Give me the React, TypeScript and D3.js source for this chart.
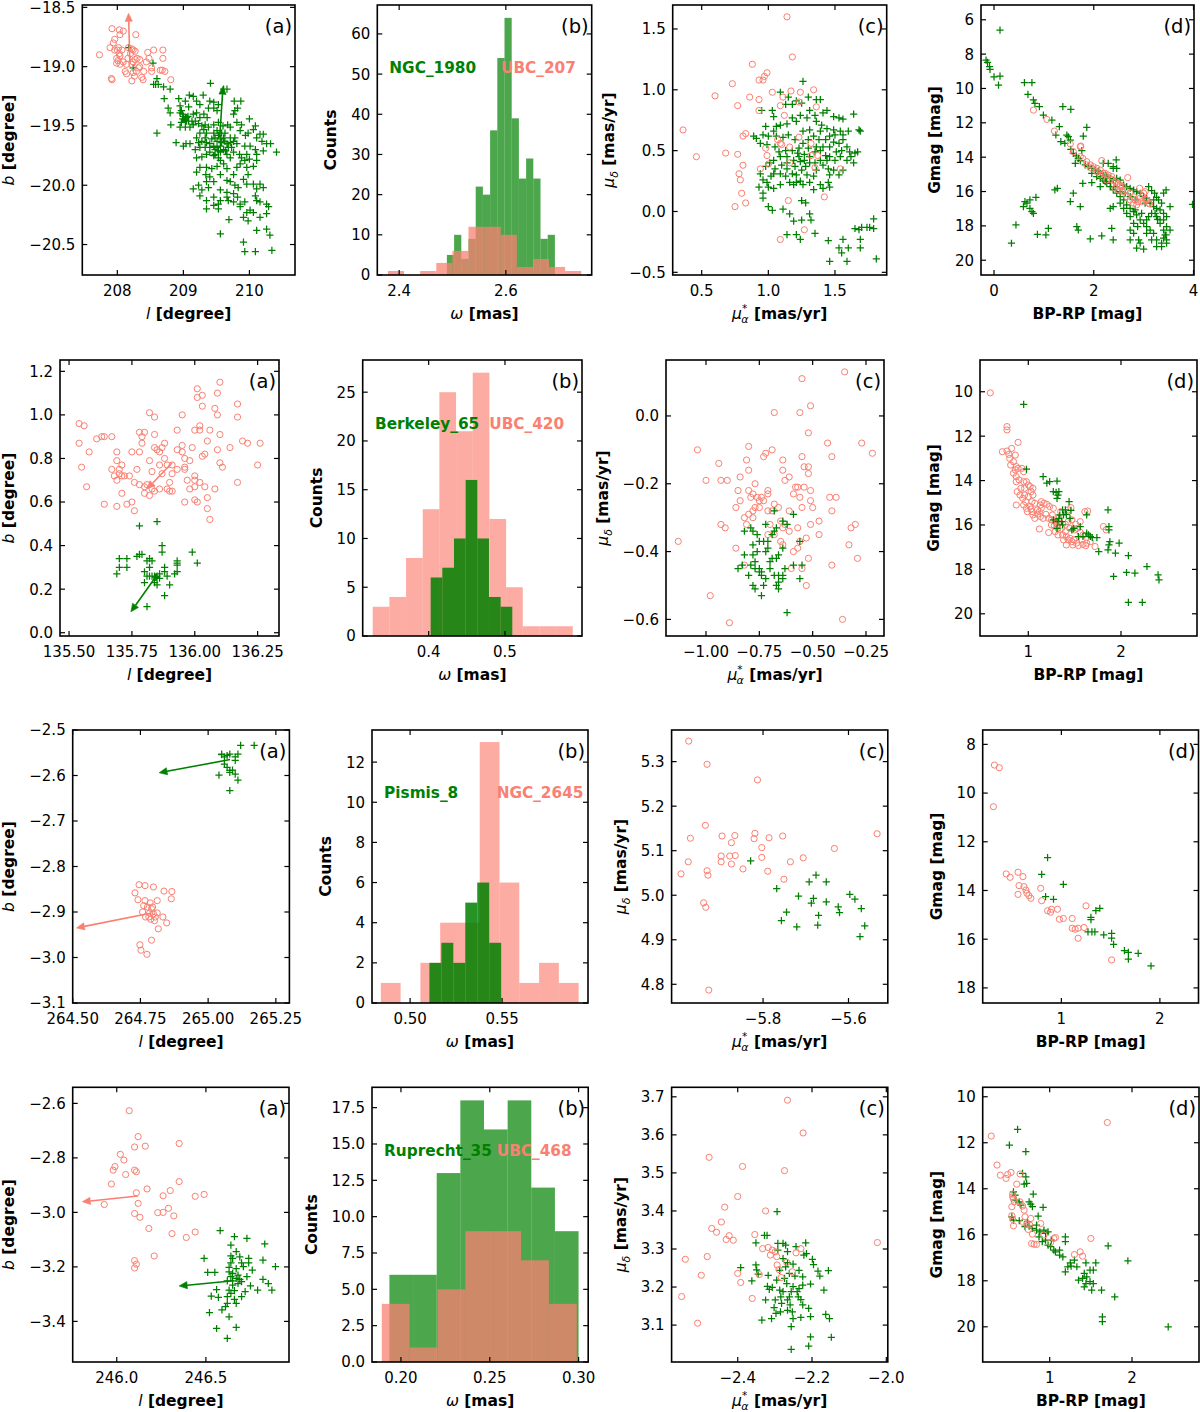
import React from 'react';
import * as d3 from 'd3';

const GREEN = '#008000';
const SALMON = '#fa8072';
const FONT = "'DejaVu Sans', sans-serif";
const TICK_FS = 15;
const LABEL_FS = 15.5;

type Pt = [number, number];
type Arrow = [number, number, number, number];

// ---------- Row 1: NGC_1980 (green) / UBC_207 (salmon) ----------
const ubc207Sky: Pt[] = [[207.73,-18.90],[207.92,-18.68],[208.03,-18.69],[208.09,-18.70],[208.04,-18.73],[207.96,-18.77],[207.94,-18.80],[208.02,-18.84],[207.89,-18.84],[207.96,-18.86],[208.00,-18.86],[208.03,-18.89],[208.04,-18.91],[207.99,-18.93],[208.01,-18.95],[207.99,-18.97],[208.04,-18.98],[208.09,-18.96],[208.14,-18.98],[208.16,-18.93],[208.20,-18.89],[208.22,-18.85],[208.28,-18.73],[208.24,-18.86],[208.27,-18.87],[208.30,-18.93],[208.27,-18.94],[208.24,-18.96],[208.34,-18.94],[208.34,-19.00],[208.32,-19.01],[208.29,-19.04],[208.24,-19.05],[208.22,-19.12],[208.14,-19.06],[208.12,-19.04],[208.22,-18.98],[208.17,-18.84],[208.46,-18.88],[208.55,-18.86],[208.69,-18.86],[208.48,-18.93],[208.44,-18.96],[208.52,-19.01],[208.52,-19.04],[208.39,-19.11],[208.37,-19.09],[208.40,-19.04],[208.65,-19.03],[208.69,-18.93],[208.68,-19.03],[208.72,-19.04],[208.81,-19.11],[207.91,-19.10],[207.92,-19.11],[208.07,-18.86],[208.26,-19.08]];
const ngc1980Sky: Pt[] = [[208.60,-19.10],[208.62,-19.15],[208.55,-19.15],[208.58,-19.15],[208.70,-19.17],[208.80,-19.19],[208.71,-19.27],[208.77,-19.35],[208.80,-19.39],[208.93,-19.27],[208.95,-19.33],[209.03,-19.29],[209.09,-19.24],[209.15,-19.25],[209.20,-19.29],[209.25,-19.32],[209.30,-19.24],[209.41,-19.14],[209.40,-19.29],[209.46,-19.30],[209.53,-19.32],[209.61,-19.19],[209.66,-19.19],[209.77,-19.29],[209.87,-19.29],[209.78,-19.37],[209.82,-19.35],[209.76,-19.40],[209.08,-19.34],[208.97,-19.37],[209.00,-19.42],[208.99,-19.44],[209.03,-19.45],[209.05,-19.46],[208.97,-19.47],[209.07,-19.42],[209.15,-19.40],[209.20,-19.39],[209.25,-19.43],[209.31,-19.40],[209.36,-19.43],[209.38,-19.35],[209.46,-19.35],[209.51,-19.37],[209.15,-19.49],[209.10,-19.51],[209.03,-19.51],[208.95,-19.51],[208.81,-19.49],[208.60,-19.56],[209.20,-19.60],[209.25,-19.56],[209.31,-19.53],[209.38,-19.51],[209.46,-19.49],[209.53,-19.47],[209.60,-19.50],[209.67,-19.49],[209.71,-19.51],[209.81,-19.47],[209.88,-19.49],[210.00,-19.44],[210.09,-19.50],[210.06,-19.53],[209.98,-19.56],[209.94,-19.58],[209.86,-19.54],[209.78,-19.60],[209.76,-19.63],[209.81,-19.65],[209.71,-19.64],[209.93,-19.67],[210.01,-19.67],[210.11,-19.60],[210.16,-19.57],[210.21,-19.57],[210.19,-19.63],[210.26,-19.65],[210.32,-19.65],[210.41,-19.72],[210.21,-19.71],[210.09,-19.70],[210.11,-19.74],[210.00,-19.78],[209.96,-19.74],[209.88,-19.77],[209.93,-19.79],[209.85,-19.74],[209.76,-19.72],[209.71,-19.77],[209.64,-19.71],[209.51,-19.68],[209.46,-19.67],[209.40,-19.65],[209.35,-19.64],[209.25,-19.68],[209.18,-19.70],[209.10,-19.65],[209.04,-19.65],[209.00,-19.67],[208.89,-19.64],[209.20,-19.77],[209.28,-19.76],[209.35,-19.74],[209.46,-19.75],[209.53,-19.77],[209.56,-19.79],[209.61,-19.82],[209.51,-19.84],[209.43,-19.86],[209.35,-19.85],[209.25,-19.85],[209.20,-19.89],[209.34,-19.91],[209.40,-19.93],[209.46,-19.97],[209.56,-19.91],[209.66,-19.86],[209.76,-19.91],[209.81,-19.85],[209.86,-19.82],[209.96,-19.85],[210.06,-19.84],[210.11,-19.79],[209.98,-19.91],[209.91,-19.95],[209.83,-20.02],[209.78,-20.00],[209.71,-19.97],[209.66,-19.96],[209.76,-20.07],[209.82,-20.10],[209.96,-19.99],[210.06,-19.99],[210.16,-19.99],[210.21,-20.02],[210.11,-20.03],[210.09,-20.09],[210.11,-20.13],[210.16,-20.14],[210.26,-20.16],[210.29,-20.18],[210.26,-20.24],[210.16,-20.27],[210.11,-20.38],[210.01,-20.21],[209.96,-20.23],[209.86,-20.18],[209.76,-20.14],[209.68,-20.13],[209.66,-20.10],[209.56,-20.13],[209.46,-20.17],[209.35,-20.20],[209.25,-20.09],[209.15,-20.03],[209.23,-20.00],[209.35,-19.97],[209.38,-20.02],[209.28,-20.04],[209.53,-20.16],[209.53,-20.20],[209.69,-20.29],[209.56,-20.41],[209.91,-20.27],[209.98,-20.30],[210.06,-20.23],[209.91,-20.48],[209.93,-20.56],[210.09,-20.56],[210.34,-20.55],[210.31,-20.42],[210.26,-20.37],[209.46,-20.10],[209.56,-20.04],[209.66,-20.06],[209.86,-20.16],[209.93,-20.14],[209.35,-20.13],[209.48,-19.60],[209.51,-19.63],[209.53,-19.58],[209.56,-19.61],[209.58,-19.64],[209.61,-19.60],[209.63,-19.63],[209.66,-19.65],[209.56,-19.67],[209.48,-19.70],[209.53,-19.71],[209.61,-19.70],[209.68,-19.68],[209.71,-19.60],[209.43,-19.61],[209.40,-19.68],[209.33,-19.60],[209.35,-19.56],[209.28,-19.63],[209.23,-19.64],[209.58,-19.56],[209.63,-19.56],[209.51,-19.54],[209.46,-19.56],[209.56,-19.72],[209.66,-19.74],[209.73,-19.68],[209.48,-19.74],[209.40,-19.72],[209.33,-19.68],[208.95,-19.39],[208.99,-19.40],[209.03,-19.43],[209.08,-19.46],[209.13,-19.46],[209.18,-19.46],[209.23,-19.48],[209.28,-19.50],[209.33,-19.49],[209.05,-19.43],[208.17,-18.84],[208.24,-19.01],[208.54,-18.97]];
const ubc207Arrow: Arrow = [208.19, -18.97, 208.17, -18.55];
const ngc1980Arrow: Arrow = [209.55, -19.60, 209.60, -19.165];

const ngc1980Plx = { start: 2.4895, width: 0.0135, counts: [5, 10, 4, 9, 22, 20, 36, 54, 64, 39, 24, 29, 24, 9, 10] };
const ubc207Plx = { start: 2.379, width: 0.0302, counts: [1, 0, 1, 3, 6, 12, 12, 10, 2, 4, 2, 1] };

const ubc207PM: Pt[] = [[1.14,1.60],[1.18,1.27],[0.88,1.21],[0.93,1.08],[0.96,1.08],[0.97,1.11],[0.99,1.14],[0.73,1.05],[0.60,0.95],[0.86,0.94],[1.03,0.98],[1.17,0.99],[1.24,0.98],[1.34,1.00],[0.93,0.92],[1.11,0.94],[0.77,0.87],[0.93,0.83],[1.09,0.87],[1.23,0.90],[1.36,0.86],[1.12,0.79],[0.36,0.67],[0.83,0.64],[0.81,0.62],[0.46,0.45],[0.68,0.48],[0.77,0.47],[0.81,0.38],[0.78,0.31],[0.79,0.26],[0.80,0.15],[0.83,0.07],[0.75,0.04],[0.94,0.35],[0.98,0.52],[0.99,0.46],[1.00,0.39],[1.07,0.59],[1.09,0.56],[1.16,0.53],[1.16,0.40],[1.23,0.61],[1.32,0.56],[1.32,0.46],[1.35,0.36],[1.37,0.46],[1.54,0.35],[1.15,0.09],[1.42,0.12],[1.27,-0.15],[1.09,-0.23],[1.10,0.55]];
const ngc1980PM: Pt[] = [[1.26,1.07],[1.09,0.98],[1.15,0.94],[1.03,0.83],[0.95,0.83],[0.98,0.70],[1.04,0.78],[1.06,0.70],[1.13,0.88],[1.18,0.88],[1.21,0.91],[1.25,0.89],[1.30,0.94],[1.31,0.83],[1.36,0.92],[1.39,0.92],[1.35,0.79],[1.41,0.81],[1.44,0.83],[1.49,0.78],[1.53,0.77],[1.56,0.76],[1.64,0.80],[1.69,0.66],[1.68,0.67],[1.60,0.66],[1.56,0.63],[1.50,0.63],[1.49,0.67],[1.44,0.68],[1.40,0.71],[1.36,0.74],[1.29,0.77],[1.24,0.79],[1.21,0.74],[1.18,0.77],[1.14,0.72],[1.09,0.71],[1.04,0.66],[1.00,0.62],[0.96,0.63],[0.91,0.60],[0.89,0.62],[0.94,0.56],[0.99,0.55],[1.05,0.53],[1.08,0.49],[1.13,0.50],[1.18,0.50],[1.23,0.52],[1.26,0.56],[1.30,0.59],[1.34,0.62],[1.38,0.59],[1.43,0.59],[1.46,0.62],[1.49,0.57],[1.53,0.56],[1.56,0.59],[1.59,0.53],[1.61,0.49],[1.65,0.48],[1.62,0.45],[1.59,0.42],[1.54,0.45],[1.50,0.42],[1.46,0.45],[1.43,0.46],[1.39,0.50],[1.35,0.49],[1.30,0.52],[1.27,0.47],[1.23,0.45],[1.19,0.42],[1.14,0.45],[1.09,0.45],[1.04,0.42],[1.01,0.40],[0.98,0.37],[0.94,0.31],[0.96,0.26],[0.99,0.24],[1.02,0.29],[1.04,0.31],[1.09,0.31],[1.14,0.35],[1.18,0.31],[1.21,0.30],[1.25,0.34],[1.28,0.37],[1.31,0.40],[1.36,0.34],[1.41,0.38],[1.45,0.35],[1.49,0.34],[1.53,0.30],[1.56,0.34],[1.64,0.40],[1.67,0.49],[1.45,0.24],[1.46,0.20],[1.41,0.19],[1.39,0.22],[1.34,0.18],[1.31,0.24],[1.26,0.22],[1.21,0.24],[1.24,0.25],[1.19,0.22],[1.16,0.24],[1.09,0.22],[1.04,0.19],[1.00,0.20],[0.96,0.15],[0.93,0.20],[0.96,0.11],[1.00,0.04],[1.03,0.01],[1.11,0.02],[1.16,-0.02],[1.19,-0.08],[1.25,0.09],[1.28,0.07],[1.31,-0.02],[1.32,-0.07],[1.25,-0.07],[1.14,-0.19],[1.21,-0.19],[1.24,-0.23],[1.35,-0.18],[1.45,-0.24],[1.46,-0.41],[1.53,-0.30],[1.56,-0.23],[1.60,-0.30],[1.59,-0.41],[1.55,-0.34],[1.69,-0.30],[1.70,-0.13],[1.68,-0.15],[1.69,-0.23],[1.65,-0.14],[1.74,-0.13],[1.76,-0.13],[1.79,-0.06],[1.81,-0.39],[1.79,-0.14],[1.22,0.48],[1.27,0.42],[1.31,0.45],[1.10,0.38],[1.05,0.35],[1.14,0.40],[1.39,0.42],[1.35,0.40],[1.44,0.42],[1.15,0.63],[1.20,0.59],[1.11,0.61],[1.06,0.62],[1.26,0.66],[1.31,0.67],[1.39,0.66],[1.54,0.66],[1.46,0.53],[1.41,0.53],[1.36,0.53],[1.24,0.41],[1.20,0.37],[1.13,0.29],[1.29,0.30],[1.34,0.29],[1.51,0.49],[1.55,0.50],[1.46,0.30]];

const ubc207CMD: Pt[] = [[0.79,11.26],[1.06,11.80],[1.21,12.48],[1.53,13.23],[1.73,13.39],[1.74,13.35],[1.59,13.68],[1.73,13.97],[1.78,14.07],[1.86,14.26],[1.93,14.45],[1.99,14.55],[2.06,14.65],[2.13,14.75],[2.16,14.20],[2.23,14.94],[2.29,15.04],[2.36,15.13],[2.43,15.42],[2.49,15.52],[2.53,15.62],[2.58,15.71],[2.63,15.91],[2.68,15.19],[2.73,16.10],[2.80,16.30],[2.83,16.49],[2.88,16.59],[2.92,15.81],[3.00,16.10],[3.03,16.01],[3.06,16.49],[3.10,16.68],[2.58,16.01],[2.49,15.91],[2.43,15.81],[2.34,15.29],[2.26,15.33],[2.19,14.94],[2.80,16.68],[2.86,16.78],[2.96,16.59],[3.03,16.45],[1.86,14.45],[1.96,14.65],[2.06,14.84],[2.13,15.04],[2.46,15.62],[2.53,15.71],[2.66,16.30],[2.73,16.49],[2.93,16.39],[3.12,16.72]];
const ngc1980CMD: Pt[] = [[0.12,6.60],[-0.16,8.35],[-0.13,8.48],[-0.09,8.73],[-0.08,8.89],[0.00,9.32],[0.12,9.28],[0.09,9.80],[0.61,9.66],[0.76,9.66],[0.68,10.34],[0.79,10.67],[0.82,10.87],[0.91,11.06],[1.38,11.06],[1.54,11.22],[0.99,11.55],[1.16,11.84],[1.31,12.22],[1.24,12.71],[1.34,13.10],[1.42,13.19],[1.46,12.71],[1.49,12.81],[1.53,13.00],[1.54,13.54],[1.59,13.78],[1.65,13.93],[1.69,14.07],[1.73,14.20],[1.63,14.36],[1.76,13.62],[1.86,12.26],[1.79,12.77],[1.83,14.45],[1.89,14.55],[1.96,14.65],[2.03,14.75],[2.09,14.84],[2.13,14.94],[2.19,15.09],[2.26,15.13],[2.33,15.23],[2.39,15.33],[2.46,15.23],[2.53,15.33],[2.60,15.62],[2.66,15.71],[2.73,15.81],[2.80,15.91],[2.86,16.01],[2.93,16.10],[3.00,16.30],[3.06,16.39],[3.13,16.68],[3.20,16.88],[3.26,16.98],[3.33,17.07],[3.40,17.27],[3.46,17.46],[3.40,17.65],[3.33,17.85],[3.46,18.04],[3.53,18.24],[3.43,18.53],[3.40,18.72],[3.46,18.82],[3.36,19.01],[3.26,18.82],[3.20,18.43],[3.13,18.24],[3.06,18.04],[3.00,17.85],[2.93,17.65],[2.86,17.36],[2.80,17.17],[2.73,16.98],[2.66,16.78],[2.60,16.49],[2.53,16.30],[2.46,16.10],[2.39,15.91],[2.33,15.71],[2.26,15.52],[2.19,15.33],[2.13,15.23],[2.06,15.13],[1.96,14.94],[1.78,15.52],[1.59,16.10],[1.53,16.59],[1.22,15.91],[1.27,15.81],[1.73,16.88],[1.96,15.48],[2.13,15.71],[2.23,15.04],[2.39,14.65],[2.45,14.16],[2.39,14.55],[2.46,14.65],[2.29,14.36],[2.19,14.36],[2.34,15.71],[2.33,16.98],[2.39,16.88],[2.53,16.68],[2.60,16.98],[2.66,17.27],[2.73,17.46],[2.80,17.85],[2.88,18.04],[2.73,18.24],[2.73,18.82],[2.80,18.43],[2.86,19.30],[2.90,18.82],[2.36,18.14],[2.39,18.82],[2.16,18.58],[1.93,18.76],[1.66,18.04],[1.69,18.24],[0.72,16.49],[0.66,16.68],[0.59,16.88],[0.62,16.59],[0.76,17.17],[0.84,16.34],[0.79,17.27],[0.72,16.98],[0.44,17.94],[0.35,19.01],[0.87,18.49],[1.04,18.53],[1.09,18.14],[3.06,17.65],[3.16,17.27],[3.28,17.62],[3.40,18.24],[3.45,15.91],[3.40,16.10],[3.53,16.88],[3.45,18.53],[3.46,19.01],[3.98,16.75],[3.03,16.68],[3.23,17.27],[3.10,17.46],[2.96,17.27],[2.83,17.07],[2.83,16.49],[2.73,16.30],[2.63,16.10],[2.53,16.01],[2.43,15.71],[2.33,15.42],[2.23,15.42],[3.10,15.71],[3.16,15.95],[3.22,16.10],[3.26,16.34],[3.30,16.49],[3.36,16.68],[3.20,16.49],[3.26,17.46],[3.33,17.65],[3.06,18.43],[3.16,18.82],[3.26,19.21],[3.36,19.21],[2.93,19.01],[3.00,19.35]];

// ---------- Row 2: Berkeley_65 (green) / UBC_420 (salmon) ----------
const ubc420Sky: Pt[] = [[135.54,0.96],[135.56,0.95],[135.54,0.87],[135.55,0.76],[135.58,0.83],[135.57,0.67],[135.61,0.89],[135.63,0.90],[135.64,0.90],[135.67,0.90],[135.64,0.59],[135.67,0.75],[135.69,0.83],[135.69,0.79],[135.69,0.70],[135.69,0.58],[135.70,0.75],[135.70,0.73],[135.71,0.72],[135.71,0.77],[135.71,0.64],[135.72,0.72],[135.74,0.72],[135.75,0.83],[135.75,0.60],[135.76,0.56],[135.76,0.69],[135.77,0.75],[135.78,0.83],[135.78,0.92],[135.79,0.90],[135.79,0.87],[135.80,0.92],[135.80,0.64],[135.82,1.01],[135.82,0.79],[135.83,0.74],[135.84,0.99],[135.84,0.85],[135.84,0.91],[135.85,0.84],[135.86,0.77],[135.86,0.83],[135.87,0.85],[135.88,0.87],[135.88,0.80],[135.84,0.65],[135.82,0.63],[135.83,0.66],[135.87,0.73],[135.89,0.77],[135.90,0.65],[135.90,0.69],[135.91,0.73],[135.91,0.77],[135.91,0.65],[135.93,0.75],[135.93,0.93],[135.93,0.84],[135.95,1.00],[135.95,0.83],[135.95,0.86],[135.96,0.80],[135.96,0.75],[135.96,0.76],[135.97,0.70],[135.98,0.66],[135.99,0.85],[136.00,0.93],[136.00,0.72],[136.00,0.70],[136.00,0.61],[136.01,0.60],[136.01,1.08],[136.01,1.12],[136.02,0.95],[136.02,0.93],[136.02,0.69],[136.03,1.09],[136.03,1.04],[136.03,0.81],[136.04,0.67],[136.04,0.82],[136.05,0.62],[136.05,0.57],[136.05,0.88],[136.06,0.93],[136.06,0.52],[136.08,1.03],[136.08,0.66],[136.09,0.84],[136.09,1.00],[136.10,1.15],[136.09,1.10],[136.10,0.91],[136.10,0.78],[136.11,0.76],[136.14,0.85],[136.17,1.05],[136.17,0.99],[136.17,0.69],[136.19,0.88],[136.21,0.87],[136.25,0.77],[136.26,0.87],[135.86,0.66],[135.89,0.66],[135.81,0.68],[135.73,0.59],[135.68,0.72],[135.96,0.60],[136.00,0.67],[135.98,0.79],[135.78,0.68],[135.80,0.67]];
const berkeley65Sky: Pt[] = [[135.85,0.51],[135.78,0.49],[135.78,0.36],[135.79,0.36],[135.70,0.34],[135.73,0.34],[135.70,0.30],[135.73,0.30],[135.69,0.27],[135.82,0.34],[135.83,0.33],[135.81,0.33],[135.82,0.30],[135.87,0.40],[135.87,0.37],[135.88,0.30],[135.93,0.33],[135.93,0.32],[135.93,0.31],[135.92,0.27],[135.93,0.28],[135.99,0.37],[136.01,0.32],[135.83,0.26],[135.84,0.26],[135.845,0.255],[135.85,0.26],[135.86,0.27],[135.85,0.25],[135.86,0.25],[135.84,0.23],[135.81,0.26],[135.80,0.23],[135.88,0.28],[135.89,0.26],[135.90,0.22],[135.85,0.22],[135.88,0.17],[135.81,0.12],[135.82,0.26],[135.80,0.28],[135.77,0.35]];
const ubc420Arrow: Arrow = [135.91, 0.78, 135.81, 0.66];
const berkeley65Arrow: Arrow = [135.845, 0.257, 135.746, 0.096];

const ubc420Plx = { start: 0.3266, width: 0.02186, counts: [3, 4, 8, 13, 25, 21, 27, 12, 5, 1, 1, 1] };
const berkeley65Plx = { start: 0.4026, width: 0.01529, counts: [6, 7, 10, 16, 10, 4, 3] };

const ubc420PM: Pt[] = [[-1.13,-0.37],[-1.04,-0.10],[-1.00,-0.19],[-0.94,-0.14],[-0.93,-0.19],[-0.90,-0.19],[-0.91,-0.33],[-0.93,-0.32],[-0.98,-0.53],[-0.89,-0.61],[-0.86,-0.39],[-0.86,-0.27],[-0.85,-0.22],[-0.84,-0.25],[-0.84,-0.18],[-0.81,-0.13],[-0.80,-0.09],[-0.80,-0.16],[-0.82,-0.44],[-0.81,-0.32],[-0.79,-0.24],[-0.78,-0.30],[-0.78,-0.28],[-0.77,-0.27],[-0.77,-0.20],[-0.76,-0.24],[-0.75,-0.25],[-0.74,-0.24],[-0.73,-0.12],[-0.72,-0.11],[-0.71,-0.22],[-0.71,-0.23],[-0.70,-0.32],[-0.69,-0.10],[-0.68,-0.26],[-0.69,-0.28],[-0.68,0.01],[-0.66,-0.27],[-0.65,-0.31],[-0.64,-0.13],[-0.64,-0.16],[-0.63,-0.19],[-0.61,-0.28],[-0.59,-0.40],[-0.61,-0.34],[-0.57,-0.33],[-0.55,0.11],[-0.56,0.01],[-0.55,-0.12],[-0.54,-0.15],[-0.55,-0.27],[-0.55,-0.45],[-0.54,-0.21],[-0.53,-0.36],[-0.52,-0.05],[-0.52,-0.15],[-0.51,0.03],[-0.52,-0.17],[-0.51,-0.32],[-0.51,-0.22],[-0.47,-0.35],[-0.47,-0.31],[-0.53,-0.50],[-0.51,-0.25],[-0.52,-0.42],[-0.60,-0.45],[-0.64,-0.33],[-0.57,-0.39],[-0.57,-0.21],[-0.43,-0.08],[-0.41,-0.12],[-0.42,-0.24],[-0.41,-0.28],[-0.41,-0.44],[-0.39,-0.24],[-0.35,0.13],[-0.36,-0.60],[-0.33,-0.38],[-0.32,-0.33],[-0.30,-0.32],[-0.29,-0.42],[-0.27,-0.08],[-0.22,-0.11],[-0.56,-0.37],[-0.64,-0.38],[-0.61,-0.18],[-0.80,-0.22],[-0.78,-0.23],[-0.75,-0.27],[-0.73,-0.25],[-0.71,-0.28],[-0.80,-0.29],[-0.82,-0.30],[-0.68,-0.35],[-0.71,-0.35],[-0.63,-0.32],[-0.59,-0.23],[-0.58,-0.21],[-0.56,-0.24],[-0.50,-0.27],[-0.65,-0.37]];
const berkeley65PM: Pt[] = [[-0.79,-0.33],[-0.78,-0.34],[-0.82,-0.34],[-0.75,-0.37],[-0.73,-0.37],[-0.71,-0.37],[-0.68,-0.28],[-0.67,-0.33],[-0.68,-0.34],[-0.69,-0.35],[-0.62,-0.32],[-0.64,-0.31],[-0.59,-0.29],[-0.56,-0.37],[-0.64,-0.39],[-0.66,-0.41],[-0.67,-0.42],[-0.69,-0.42],[-0.71,-0.39],[-0.72,-0.40],[-0.70,-0.43],[-0.76,-0.40],[-0.78,-0.41],[-0.82,-0.41],[-0.83,-0.44],[-0.85,-0.45],[-0.79,-0.44],[-0.77,-0.43],[-0.77,-0.45],[-0.74,-0.46],[-0.74,-0.47],[-0.72,-0.48],[-0.70,-0.45],[-0.68,-0.47],[-0.66,-0.47],[-0.67,-0.50],[-0.66,-0.49],[-0.64,-0.47],[-0.63,-0.45],[-0.59,-0.44],[-0.55,-0.44],[-0.56,-0.48],[-0.64,-0.48],[-0.75,-0.45],[-0.75,-0.46],[-0.80,-0.47],[-0.77,-0.51],[-0.74,-0.53],[-0.73,-0.50],[-0.78,-0.50],[-0.66,-0.51],[-0.62,-0.58],[-0.78,-0.38],[-0.76,-0.35],[-0.72,-0.32]];

const ubc420CMD: Pt[] = [[0.59,10.05],[0.77,11.57],[0.77,11.72],[0.72,12.70],[0.77,12.67],[0.82,12.55],[0.79,12.82],[0.89,12.28],[0.80,13.00],[0.86,12.85],[0.84,13.15],[0.81,13.30],[0.87,13.37],[0.86,13.52],[0.84,13.67],[0.87,13.82],[0.89,13.45],[0.87,14.05],[0.90,13.97],[0.93,13.45],[0.95,13.60],[0.95,14.05],[0.96,14.35],[0.92,14.35],[0.88,14.50],[0.87,15.10],[0.91,14.65],[0.94,14.80],[0.96,14.65],[0.98,14.05],[1.00,14.20],[1.02,14.27],[1.03,14.50],[1.05,14.65],[1.05,14.35],[1.00,14.72],[0.97,14.95],[0.95,15.10],[0.98,15.25],[1.03,15.28],[0.99,15.40],[1.04,15.40],[1.05,15.55],[1.07,15.70],[1.10,15.52],[1.12,15.40],[1.14,15.25],[1.13,15.62],[1.16,15.70],[1.19,15.52],[1.22,15.70],[1.25,15.77],[1.26,15.55],[1.29,15.85],[1.31,15.92],[1.33,15.70],[1.35,15.40],[1.27,15.25],[1.23,15.17],[1.20,15.07],[1.17,15.02],[1.13,15.10],[1.10,15.32],[1.14,14.95],[1.07,15.02],[1.04,14.95],[1.02,15.17],[1.12,16.18],[1.22,16.34],[1.25,16.00],[1.28,16.03],[1.31,16.03],[1.32,16.15],[1.36,16.15],[1.40,16.30],[1.37,16.45],[1.41,16.52],[1.43,16.67],[1.45,16.60],[1.47,16.75],[1.49,16.67],[1.52,16.82],[1.54,16.93],[1.59,16.87],[1.63,16.82],[1.58,16.67],[1.59,16.45],[1.56,16.33],[1.53,16.15],[1.50,16.22],[1.45,16.15],[1.40,15.97],[1.43,15.85],[1.47,15.77],[1.51,15.97],[1.56,15.85],[1.61,15.40],[1.81,16.07],[1.84,16.22],[1.64,15.37],[1.43,15.32],[1.46,15.22],[1.34,15.85],[1.32,16.45],[1.29,16.30],[1.38,16.67],[1.41,16.90],[1.48,16.90],[1.62,16.93],[1.67,16.75],[1.72,16.97]];
const berkeley65CMD: Pt[] = [[0.95,10.57],[0.98,13.49],[1.16,13.82],[1.20,14.12],[1.23,14.05],[1.31,14.02],[1.27,14.50],[1.30,14.53],[1.33,14.50],[1.32,14.65],[1.31,14.80],[1.44,14.95],[1.46,15.34],[1.40,15.32],[1.37,15.32],[1.34,15.55],[1.33,15.70],[1.32,15.85],[1.36,15.85],[1.37,16.00],[1.38,15.55],[1.41,15.52],[1.45,15.70],[1.47,16.22],[1.56,16.07],[1.63,15.55],[1.63,16.37],[1.65,16.45],[1.67,16.52],[1.69,16.57],[1.74,16.57],[1.76,17.20],[1.59,16.52],[1.54,16.52],[1.86,15.32],[1.87,16.07],[1.87,16.22],[1.86,17.12],[1.87,16.90],[1.88,16.75],[1.94,17.27],[1.98,16.82],[2.08,17.38],[1.92,18.32],[2.06,18.14],[2.15,18.17],[2.28,17.87],[2.40,18.25],[2.41,18.47],[2.08,19.49],[2.23,19.49],[1.31,16.15],[1.49,16.15],[1.27,15.77]];

// ---------- Row 3: Pismis_8 (green) / NGC_2645 (salmon) ----------
const pismis8Sky: Pt[] = [[265.05,-2.553],[265.07,-2.556],[265.08,-2.553],[265.10,-2.559],[265.11,-2.553],[265.12,-2.534],[265.17,-2.534],[265.06,-2.575],[265.07,-2.582],[265.08,-2.589],[265.09,-2.588],[265.08,-2.593],[265.10,-2.597],[265.11,-2.610],[265.04,-2.599],[265.08,-2.633],[265.10,-2.567],[265.06,-2.559],[265.05,-2.554]];
const ngc2645Sky: Pt[] = [[264.745,-2.840],[264.767,-2.842],[264.798,-2.845],[264.730,-2.858],[264.741,-2.873],[264.767,-2.875],[264.786,-2.880],[264.812,-2.875],[264.837,-2.854],[264.866,-2.855],[264.864,-2.871],[264.762,-2.886],[264.776,-2.889],[264.795,-2.889],[264.758,-2.900],[264.784,-2.902],[264.798,-2.904],[264.812,-2.902],[264.781,-2.911],[264.788,-2.916],[264.802,-2.919],[264.791,-2.893],[264.769,-2.911],[264.805,-2.911],[264.833,-2.911],[264.847,-2.924],[264.816,-2.937],[264.748,-2.972],[264.791,-2.962],[264.752,-2.984],[264.774,-2.993]];
const pismis8Arrow: Arrow = [265.081, -2.565, 264.819, -2.594];
const ngc2645Arrow: Arrow = [264.791, -2.902, 264.514, -2.935];

const ngc2645Plx = { start: 0.4841, width: 0.01075, counts: [1, 0, 2, 4, 4, 13, 6, 1, 2, 1] };
const pismis8Plx = { start: 0.5105, width: 0.0065, counts: [2, 3, 2, 5, 6, 3] };

const ngc2645PM: Pt[] = [[-5.974,5.346],[-5.931,5.294],[-5.813,5.259],[-5.935,5.157],[-5.970,5.128],[-5.896,5.133],[-5.866,5.134],[-5.819,5.139],[-5.821,5.127],[-5.786,5.129],[-5.754,5.133],[-5.533,5.138],[-5.874,5.118],[-5.975,5.075],[-5.992,5.048],[-5.931,5.055],[-5.929,5.045],[-5.898,5.088],[-5.878,5.088],[-5.865,5.089],[-5.898,5.075],[-5.874,5.070],[-5.847,5.059],[-5.803,5.107],[-5.803,5.085],[-5.789,5.054],[-5.751,5.036],[-5.736,5.075],[-5.706,5.084],[-5.633,5.105],[-5.939,4.983],[-5.934,4.973],[-5.927,4.787]];
const pismis8PM: Pt[] = [[-5.829,5.077],[-5.768,5.015],[-5.757,4.943],[-5.745,4.962],[-5.721,4.929],[-5.717,4.998],[-5.687,4.982],[-5.682,4.993],[-5.692,5.030],[-5.676,5.045],[-5.670,4.955],[-5.672,4.933],[-5.652,5.030],[-5.652,4.985],[-5.624,4.974],[-5.621,4.961],[-5.597,5.002],[-5.585,4.991],[-5.570,4.970],[-5.562,4.931],[-5.573,4.907]];

const ngc2645CMD: Pt[] = [[0.32,8.85],[0.37,8.96],[0.31,10.56],[0.44,13.32],[0.48,13.46],[0.56,13.25],[0.61,13.43],[0.56,14.16],[0.57,13.80],[0.62,13.84],[0.64,13.98],[0.65,14.11],[0.67,14.21],[0.69,14.32],[0.79,13.91],[0.80,14.42],[0.86,14.83],[0.89,14.89],[0.90,14.77],[0.96,14.77],[0.98,15.18],[1.02,15.15],[1.11,15.15],[1.11,15.55],[1.14,15.59],[1.17,15.55],[1.17,15.96],[1.23,15.52],[1.25,14.63],[1.51,16.85]];
const pismis8CMD: Pt[] = [[0.86,12.65],[0.80,13.34],[1.02,13.75],[0.84,14.25],[0.92,14.36],[1.39,14.73],[1.35,14.83],[1.30,15.10],[1.30,15.20],[1.27,15.70],[1.31,15.70],[1.34,15.70],[1.43,15.82],[1.51,15.76],[1.51,15.96],[1.53,16.21],[1.64,16.47],[1.68,16.54],[1.78,16.58],[1.68,16.82],[1.91,17.10]];

// ---------- Row 4: Ruprecht_35 (green) / UBC_468 (salmon) ----------
const ubc468Sky: Pt[] = [[246.07,-2.627],[246.12,-2.722],[246.10,-2.760],[246.16,-2.757],[246.35,-2.747],[246.02,-2.787],[246.04,-2.808],[245.98,-2.845],[245.99,-2.832],[246.05,-2.861],[246.10,-2.845],[246.11,-2.851],[245.97,-2.896],[246.35,-2.887],[246.17,-2.914],[246.11,-2.928],[246.26,-2.939],[246.30,-2.920],[246.44,-2.941],[246.49,-2.934],[245.93,-2.971],[246.12,-2.967],[246.10,-3.004],[246.13,-3.018],[246.23,-3.001],[246.26,-3.000],[246.29,-2.985],[246.32,-3.013],[246.18,-3.059],[246.31,-3.078],[246.39,-3.092],[246.44,-3.072],[246.21,-3.160],[246.10,-3.177],[246.11,-3.190],[246.10,-3.204]];
const ruprecht35Sky: Pt[] = [[246.58,-3.067],[246.66,-3.089],[246.73,-3.095],[246.83,-3.116],[246.49,-3.169],[246.64,-3.120],[246.67,-3.144],[246.64,-3.160],[246.65,-3.169],[246.69,-3.163],[246.74,-3.169],[246.74,-3.185],[246.70,-3.185],[246.64,-3.185],[246.82,-3.175],[246.71,-3.199],[246.67,-3.206],[246.63,-3.202],[246.51,-3.220],[246.55,-3.220],[246.63,-3.218],[246.65,-3.224],[246.68,-3.230],[246.64,-3.236],[246.67,-3.242],[246.69,-3.246],[246.70,-3.254],[246.65,-3.251],[246.62,-3.251],[246.68,-3.261],[246.65,-3.267],[246.82,-3.246],[246.85,-3.261],[246.75,-3.270],[246.56,-3.283],[246.63,-3.285],[246.66,-3.287],[246.64,-3.297],[246.72,-3.291],[246.79,-3.285],[246.53,-3.307],[246.57,-3.312],[246.62,-3.309],[246.66,-3.319],[246.70,-3.309],[246.62,-3.334],[246.61,-3.346],[246.67,-3.334],[246.59,-3.358],[246.52,-3.368],[246.63,-3.383],[246.56,-3.426],[246.67,-3.422],[246.62,-3.462],[246.89,-3.199],[246.87,-3.285],[246.76,-3.212],[246.73,-3.236]];
const ubc468Arrow: Arrow = [246.118, -2.940, 245.807, -2.961];
const ruprecht35Arrow: Arrow = [246.654, -3.251, 246.35, -3.270];

const ruprecht35Plx = { start: 0.1935, width: 0.01331, counts: [6, 6, 13, 18, 16, 18, 12, 9] };
const ubc468Plx = { start: 0.1892, width: 0.01568, counts: [4, 1, 5, 9, 9, 7, 4] };

const ubc468PM: Pt[] = [[-2.266,3.691],[-2.224,3.605],[-2.477,3.541],[-2.387,3.517],[-2.274,3.506],[-2.435,3.410],[-2.400,3.438],[-2.325,3.400],[-2.444,3.371],[-2.470,3.354],[-2.457,3.344],[-2.423,3.335],[-2.431,3.325],[-2.412,3.323],[-2.354,3.338],[-2.333,3.301],[-2.318,3.304],[-2.307,3.297],[-2.299,3.293],[-2.312,3.284],[-2.295,3.280],[-2.294,3.258],[-2.289,3.246],[-2.283,3.225],[-2.268,3.265],[-2.253,3.240],[-2.243,3.290],[-2.230,3.301],[-2.482,3.280],[-2.541,3.273],[-2.498,3.231],[-2.400,3.236],[-2.392,3.212],[-2.342,3.233],[-2.361,3.170],[-2.551,3.175],[-2.508,3.105],[-2.024,3.317]];
const ruprecht35PM: Pt[] = [[-2.294,3.398],[-2.328,3.336],[-2.321,3.336],[-2.351,3.316],[-2.392,3.251],[-2.351,3.258],[-2.349,3.245],[-2.362,3.216],[-2.345,3.234],[-2.318,3.231],[-2.292,3.315],[-2.278,3.315],[-2.271,3.310],[-2.266,3.293],[-2.292,3.297],[-2.278,3.275],[-2.266,3.264],[-2.251,3.260],[-2.243,3.306],[-2.217,3.316],[-2.215,3.288],[-2.222,3.284],[-2.199,3.273],[-2.196,3.259],[-2.184,3.242],[-2.179,3.229],[-2.156,3.243],[-2.168,3.192],[-2.204,3.208],[-2.225,3.205],[-2.235,3.196],[-2.240,3.188],[-2.237,3.174],[-2.230,3.167],[-2.251,3.201],[-2.256,3.188],[-2.261,3.174],[-2.266,3.166],[-2.278,3.188],[-2.284,3.174],[-2.282,3.157],[-2.307,3.199],[-2.320,3.202],[-2.315,3.194],[-2.325,3.166],[-2.302,3.146],[-2.297,3.131],[-2.285,3.135],[-2.266,3.139],[-2.259,3.153],[-2.253,3.135],[-2.251,3.117],[-2.256,3.096],[-2.225,3.153],[-2.209,3.144],[-2.204,3.122],[-2.230,3.120],[-2.204,3.069],[-2.153,3.117],[-2.163,3.128],[-2.148,3.068],[-2.209,3.045],[-2.256,3.036],[-2.335,3.113],[-2.309,3.117],[-2.274,3.223],[-2.295,3.218],[-2.287,3.244],[-2.271,3.253],[-2.261,3.236],[-2.235,3.244],[-2.225,3.227],[-2.268,3.209],[-2.246,3.229],[-2.287,3.192],[-2.299,3.166]];

const ubc468CMD: Pt[] = [[0.29,11.71],[0.36,12.97],[0.40,13.41],[0.47,13.55],[0.49,13.38],[0.53,13.29],[0.60,13.80],[0.64,13.36],[0.55,14.23],[0.55,14.35],[0.56,14.45],[0.57,14.57],[0.54,14.78],[0.54,15.17],[0.55,15.33],[0.56,15.61],[0.64,14.57],[0.67,14.75],[0.69,14.93],[0.70,15.22],[0.68,15.46],[0.72,15.54],[0.77,15.29],[0.79,15.97],[0.78,16.38],[0.81,16.41],[0.84,16.42],[0.89,15.51],[0.93,16.01],[1.01,16.35],[1.05,16.16],[1.07,16.12],[1.30,16.86],[1.37,16.74],[1.40,16.93],[1.50,16.16],[1.70,11.12],[0.76,15.58],[0.74,15.77]];
const ruprecht35CMD: Pt[] = [[0.61,11.42],[0.51,12.10],[0.71,12.39],[0.67,13.33],[0.71,13.48],[0.72,13.77],[0.69,13.80],[0.56,14.13],[0.58,14.28],[0.59,14.49],[0.63,14.57],[0.65,14.71],[0.75,14.57],[0.77,14.67],[0.80,14.23],[0.79,14.78],[0.54,15.22],[0.56,15.36],[0.63,15.39],[0.70,15.65],[0.75,15.62],[0.79,15.72],[0.84,15.58],[0.86,15.19],[0.92,14.81],[0.84,15.80],[0.88,15.87],[0.93,15.80],[0.95,15.94],[0.98,15.87],[0.87,16.09],[0.91,16.30],[0.95,16.23],[0.98,16.45],[1.01,16.52],[1.05,16.67],[1.07,16.74],[1.12,16.88],[1.16,16.96],[1.19,16.09],[1.19,16.30],[1.22,17.39],[1.26,17.36],[1.30,17.10],[1.19,17.61],[1.35,17.97],[1.42,17.68],[1.44,17.22],[1.49,17.54],[1.42,18.26],[1.44,18.12],[1.49,18.04],[1.51,18.41],[1.56,17.22],[1.63,18.41],[1.64,19.57],[1.64,19.78],[1.71,16.48],[1.79,18.70],[1.95,17.13],[2.44,20.00],[0.73,15.43],[1.02,16.23],[1.12,16.67],[1.25,17.22],[1.33,17.39],[1.45,17.83],[1.40,17.90],[1.53,18.12],[1.53,17.54]];

// ---------- axis labels ----------
const it = (s: string) => <tspan fontStyle="italic" fontWeight="normal">{s}</tspan>;
const LABELS: Record<string, React.ReactNode> = {
  l: <>{it('l')}<tspan> [degree]</tspan></>,
  b: <>{it('b')}<tspan> [degree]</tspan></>,
  omega: <>{it('ω')}<tspan> [mas]</tspan></>,
  counts: <tspan>Counts</tspan>,
  pmra: <>{it('μ')}<tspan fontSize={10.5} fontWeight="normal" dy={-7}>*</tspan><tspan fontSize={11} fontStyle="italic" fontWeight="normal" dx={-6} dy={11}>α</tspan><tspan dy={-4}> [mas/yr]</tspan></>,
  pmdec: <>{it('μ')}<tspan fontSize={11} fontStyle="italic" fontWeight="normal" dy={4}>δ</tspan><tspan dy={-4}> [mas/yr]</tspan></>,
  bprp: <tspan>BP-RP [mag]</tspan>,
  gmag: <tspan>Gmag [mag]</tspan>,
};

interface Hist { start: number; width: number; counts: number[]; color: string; opacity: number }
interface Scatter { pts: Pt[]; kind: 'plus' | 'circle'; color: string; arrow?: Arrow }
interface PanelSpec {
  box: [number, number, number, number];
  xDomain: [number, number];
  yDomain: [number, number];
  xTicks: number[]; yTicks: number[];
  xFmt: string; yFmt: string;
  xLabel: string; yLabel: string;
  tag: string;
  layers?: Scatter[];
  hists?: Hist[];
  names?: [string, string];
}

type Bins = { start: number; width: number; counts: number[] };
const g = (pts: Pt[], arrow?: Arrow): Scatter => ({ pts, kind: 'plus', color: GREEN, arrow });
const s = (pts: Pt[], arrow?: Arrow): Scatter => ({ pts, kind: 'circle', color: SALMON, arrow });
const gh = (h: Bins, opacity = 0.7): Hist => ({ ...h, color: GREEN, opacity });
const sh = (h: Bins, opacity = 0.7): Hist => ({ ...h, color: SALMON, opacity });

const panels: PanelSpec[] = [
  // row 1
  { box: [82.3, 295, 5, 275], xDomain: [207.47, 210.69], yDomain: [-20.757, -18.48], xTicks: [208, 209, 210], yTicks: [-20.5, -20, -19.5, -19, -18.5], xFmt: 'd', yFmt: '.1f', xLabel: 'l', yLabel: 'b', tag: '(a)', layers: [g(ngc1980Sky, ngc1980Arrow), s(ubc207Sky, ubc207Arrow)] },
  { box: [377.3, 591.7, 5, 275], xDomain: [2.359, 2.761], yDomain: [0, 67.2], xTicks: [2.4, 2.6], yTicks: [0, 10, 20, 30, 40, 50, 60], xFmt: '.1f', yFmt: 'd', xLabel: 'omega', yLabel: 'counts', tag: '(b)', hists: [gh(ngc1980Plx), sh(ubc207Plx, 0.75)], names: ['NGC_1980', 'UBC_207'] },
  { box: [672.7, 886.7, 5, 275], xDomain: [0.2825, 1.888], yDomain: [-0.522, 1.697], xTicks: [0.5, 1, 1.5], yTicks: [-0.5, 0, 0.5, 1, 1.5], xFmt: '.1f', yFmt: '.1f', xLabel: 'pmra', yLabel: 'pmdec', tag: '(c)', layers: [g(ngc1980PM), s(ubc207PM)] },
  { box: [981, 1194, 5, 275], xDomain: [-0.261, 4.01], yDomain: [20.86, 5.14], xTicks: [0, 2, 4], yTicks: [6, 8, 10, 12, 14, 16, 18, 20], xFmt: 'd', yFmt: 'd', xLabel: 'bprp', yLabel: 'gmag', tag: '(d)', layers: [g(ngc1980CMD), s(ubc207CMD)] },
  // row 2
  { box: [60, 279, 360, 636], xDomain: [135.464, 136.335], yDomain: [-0.015, 1.252], xTicks: [135.5, 135.75, 136, 136.25], yTicks: [0, 0.2, 0.4, 0.6, 0.8, 1.0, 1.2], xFmt: '.2f', yFmt: '.1f', xLabel: 'l', yLabel: 'b', tag: '(a)', layers: [s(ubc420Sky, ubc420Arrow), g(berkeley65Sky, berkeley65Arrow)] },
  { box: [362.7, 582, 360, 636], xDomain: [0.3135, 0.601], yDomain: [0, 28.3], xTicks: [0.4, 0.5], yTicks: [0, 5, 10, 15, 20, 25], xFmt: '.1f', yFmt: 'd', xLabel: 'omega', yLabel: 'counts', tag: '(b)', hists: [sh(ubc420Plx, 0.65), gh(berkeley65Plx, 0.85)], names: ['Berkeley_65', 'UBC_420'] },
  { box: [666, 884, 360, 636], xDomain: [-1.1875, -0.1656], yDomain: [-0.649, 0.165], xTicks: [-1, -0.75, -0.5, -0.25], yTicks: [-0.6, -0.4, -0.2, 0], xFmt: '.2f', yFmt: '.1f', xLabel: 'pmra', yLabel: 'pmdec', tag: '(c)', layers: [s(ubc420PM), g(berkeley65PM)] },
  { box: [980, 1197, 360, 636], xDomain: [0.479, 2.82], yDomain: [21.0, 8.57], xTicks: [1, 2], yTicks: [10, 12, 14, 16, 18, 20], xFmt: 'd', yFmt: 'd', xLabel: 'bprp', yLabel: 'gmag', tag: '(d)', layers: [s(ubc420CMD), g(berkeley65CMD)] },
  // row 3
  { box: [72.7, 289.4, 730, 1003], xDomain: [264.5, 265.3], yDomain: [-3.1, -2.5], xTicks: [264.5, 264.75, 265, 265.25], yTicks: [-3.1, -3.0, -2.9, -2.8, -2.7, -2.6, -2.5], xFmt: '.2f', yFmt: '.1f', xLabel: 'l', yLabel: 'b', tag: '(a)', layers: [s(ngc2645Sky, ngc2645Arrow), g(pismis8Sky, pismis8Arrow)] },
  { box: [372, 588, 730, 1003], xDomain: [0.4793, 0.5967], yDomain: [0, 13.6], xTicks: [0.5, 0.55], yTicks: [0, 2, 4, 6, 8, 10, 12], xFmt: '.2f', yFmt: 'd', xLabel: 'omega', yLabel: 'counts', tag: '(b)', hists: [sh(ngc2645Plx, 0.65), gh(pismis8Plx, 0.85)], names: ['Pismis_8', 'NGC_2645'] },
  { box: [671.6, 887.8, 730, 1003], xDomain: [-6.014, -5.508], yDomain: [4.758, 5.371], xTicks: [-5.8, -5.6], yTicks: [4.8, 4.9, 5.0, 5.1, 5.2, 5.3], xFmt: '.1f', yFmt: '.1f', xLabel: 'pmra', yLabel: 'pmdec', tag: '(c)', layers: [s(ngc2645PM), g(pismis8PM)] },
  { box: [982.7, 1198.5, 730, 1003], xDomain: [0.2014, 2.392], yDomain: [18.62, 7.41], xTicks: [1, 2], yTicks: [8, 10, 12, 14, 16, 18], xFmt: 'd', yFmt: 'd', xLabel: 'bprp', yLabel: 'gmag', tag: '(d)', layers: [s(ngc2645CMD), g(pismis8CMD)] },
  // row 4
  { box: [72.7, 289, 1087.3, 1362], xDomain: [245.753, 246.966], yDomain: [-3.549, -2.541], xTicks: [246, 246.5], yTicks: [-3.4, -3.2, -3.0, -2.8, -2.6], xFmt: '.1f', yFmt: '.1f', xLabel: 'l', yLabel: 'b', tag: '(a)', layers: [g(ruprecht35Sky, ruprecht35Arrow), s(ubc468Sky, ubc468Arrow)] },
  { box: [372, 588.2, 1087.3, 1362], xDomain: [0.1837, 0.3054], yDomain: [0, 18.9], xTicks: [0.2, 0.25, 0.3], yTicks: [0, 2.5, 5, 7.5, 10, 12.5, 15, 17.5], xFmt: '.2f', yFmt: '.1f', xLabel: 'omega', yLabel: 'counts', tag: '(b)', hists: [gh(ruprecht35Plx), sh(ubc468Plx, 0.75)], names: ['Ruprecht_35', 'UBC_468'] },
  { box: [671.6, 887.8, 1087.3, 1362], xDomain: [-2.578, -1.996], yDomain: [3.003, 3.725], xTicks: [-2.4, -2.2, -2.0], yTicks: [3.1, 3.2, 3.3, 3.4, 3.5, 3.6, 3.7], xFmt: '.1f', yFmt: '.1f', xLabel: 'pmra', yLabel: 'pmdec', tag: '(c)', layers: [g(ruprecht35PM), s(ubc468PM)] },
  { box: [982.7, 1199, 1087.3, 1362], xDomain: [0.186, 2.814], yDomain: [21.53, 9.59], xTicks: [1, 2], yTicks: [10, 12, 14, 16, 18, 20], xFmt: 'd', yFmt: 'd', xLabel: 'bprp', yLabel: 'gmag', tag: '(d)', layers: [g(ruprecht35CMD), s(ubc468CMD)] },
];

function textWidth(str: string, fs: number) {
  let w = 0;
  for (const c of str) w += c === '−' ? 0.838 : c === '.' ? 0.318 : 0.636;
  return w * fs;
}

function ArrowMark({ a, x, y, color }: { a: Arrow; x: d3.ScaleLinear<number, number>; y: d3.ScaleLinear<number, number>; color: string }) {
  const px0 = x(a[0]), py0 = y(a[1]), px1 = x(a[2]), py1 = y(a[3]);
  const len = Math.hypot(px1 - px0, py1 - py0);
  const ux = (px1 - px0) / len, uy = (py1 - py0) / len;
  const hl = 8, hw = 3.6;
  const bx = px1 - ux * hl, by = py1 - uy * hl;
  const head = `M${px1},${py1}L${bx - uy * hw},${by + ux * hw}L${bx + uy * hw},${by - ux * hw}Z`;
  return (
    <g>
      <line x1={px0} y1={py0} x2={bx} y2={by} stroke={color} strokeWidth={1.6} />
      <path d={head} fill={color} stroke={color} strokeWidth={0.6} />
    </g>
  );
}

function Panel({ p, idx }: { p: PanelSpec; idx: number }) {
  const [x0, x1, y0, y1] = p.box;
  const x = d3.scaleLinear().domain(p.xDomain).range([x0, x1]);
  const y = d3.scaleLinear().domain(p.yDomain).range([y1, y0]);
  const xf = d3.format(p.xFmt);
  const yf = d3.format(p.yFmt);
  const clip = `clip-${idx}`;
  const tl = 5;
  const yLabs = p.yTicks.map((t) => yf(t));
  const ylabX = x0 - 22 - Math.max(...yLabs.map((l) => textWidth(l, TICK_FS)));
  const w = x1 - x0, h = y1 - y0;
  const ps = 3.6;

  return (
    <g>
      <defs>
        <clipPath id={clip}><rect x={x0} y={y0} width={w} height={h} /></clipPath>
      </defs>
      <g clipPath={`url(#${clip})`}>
        {p.hists && p.hists.map((hs, k) => (
          <g key={k} fill={hs.color} fillOpacity={hs.opacity}>
            {hs.counts.map((c, i) => {
              if (c <= 0) return null;
              const a = x(hs.start + i * hs.width);
              const b = x(hs.start + (i + 1) * hs.width);
              return <rect key={i} x={a} y={y(c)} width={b - a} height={y(0) - y(c)} />;
            })}
          </g>
        ))}
        {p.layers && p.layers.map((L, k) => (
          <g key={k}>
            {L.kind === 'plus' ? (
              <path
                d={L.pts.map(([a, b]) => `M${x(a) - ps},${y(b)}h${2 * ps}M${x(a)},${y(b) - ps}v${2 * ps}`).join('')}
                stroke={L.color} strokeWidth={1.25} fill="none"
              />
            ) : (
              L.pts.map(([a, b], i) => (
                <circle key={i} cx={x(a)} cy={y(b)} r={3.1} fill="none" stroke={L.color} strokeWidth={1} />
              ))
            )}
          </g>
        ))}
        {p.layers && p.layers.map((L, k) => L.arrow ? <ArrowMark key={`a${k}`} a={L.arrow} x={x} y={y} color={L.color} /> : null)}
      </g>
      {/* ticks on all four sides, pointing inward */}
      <g stroke="#000" strokeWidth={1.2}>
        {p.xTicks.map((t, i) => (
          <g key={i}>
            <line x1={x(t)} x2={x(t)} y1={y1} y2={y1 - tl} />
            <line x1={x(t)} x2={x(t)} y1={y0} y2={y0 + tl} />
          </g>
        ))}
        {p.yTicks.map((t, i) => (
          <g key={i}>
            <line x1={x0} x2={x0 + tl} y1={y(t)} y2={y(t)} />
            <line x1={x1} x2={x1 - tl} y1={y(t)} y2={y(t)} />
          </g>
        ))}
      </g>
      <rect x={x0} y={y0} width={w} height={h} fill="none" stroke="#000" strokeWidth={1.6} />
      <g fontFamily={FONT} fontSize={TICK_FS} fill="#000">
        {p.xTicks.map((t, i) => (
          <text key={i} x={x(t)} y={y1 + 21} textAnchor="middle">{xf(t)}</text>
        ))}
        {p.yTicks.map((t, i) => (
          <text key={i} x={x0 - 7} y={y(t)} dy="0.36em" textAnchor="end">{yLabs[i]}</text>
        ))}
      </g>
      <text x={(x0 + x1) / 2} y={y1 + 44} textAnchor="middle" fontFamily={FONT} fontSize={LABEL_FS} fontWeight="bold">
        {LABELS[p.xLabel]}
      </text>
      <text x={ylabX} y={(y0 + y1) / 2} textAnchor="middle" fontFamily={FONT} fontSize={LABEL_FS} fontWeight="bold"
        transform={`rotate(-90, ${ylabX}, ${(y0 + y1) / 2})`}>
        {LABELS[p.yLabel]}
      </text>
      <text x={x1 - 3} y={y0 + 28} textAnchor="end" fontFamily={FONT} fontSize={19.5}>{p.tag}</text>
      {p.names && (
        <g fontFamily={FONT} fontSize={15.3} fontWeight="bold">
          <text x={x0 + 0.056 * w} y={y0 + 0.25 * h} fill={GREEN}>{p.names[0]}</text>
          <text x={x0 + 0.577 * w} y={y0 + 0.25 * h} fill={SALMON}>{p.names[1]}</text>
        </g>
      )}
    </g>
  );
}

export default function App() {
  return (
    <svg width={1200} height={1412} viewBox="0 0 1200 1412"
      style={{ position: 'absolute', left: 0, top: 0, background: '#fff' }}>
      <rect x={0} y={0} width={1200} height={1412} fill="#fff" />
      {panels.map((p, i) => <Panel key={i} p={p} idx={i} />)}
    </svg>
  );
}
